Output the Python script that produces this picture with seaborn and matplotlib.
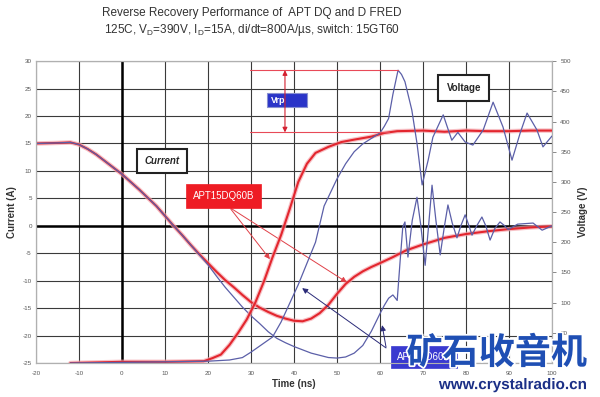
import numpy as np
import pandas as pd
import seaborn as sns
import matplotlib.pyplot as plt
import matplotlib.patheffects as pe
from matplotlib.patches import Rectangle

# --- dados ---
# corrente APT15DQ60B (vermelho)
t_i_dq = [-20, -15, -12, -10, -8, -6, -4, -2, 0, 2, 4, 6, 8, 10, 12, 14, 16, 18, 20, 22, 24,
          26, 28, 30, 32, 34, 36, 38, 40, 42, 44, 46, 48, 50, 52, 54, 56, 58, 60, 63, 66,
          70, 75, 80, 85, 90, 95, 100]
i_dq = [15.0, 15.1, 15.2, 14.8, 14.0, 13.0, 11.8, 10.6, 9.4, 8.0, 6.6, 5.1, 3.6, 1.8, 0.0, -1.7,
        -3.5, -5.2, -6.8, -8.4, -9.9, -11.2, -12.6, -13.9, -14.9, -15.7, -16.4, -16.9, -17.3,
        -17.4, -16.9, -15.9, -14.4, -12.4, -10.6, -9.3, -8.3, -7.5, -6.8, -5.7, -4.5, -3.4,
        -2.2, -1.5, -1.0, -0.6, -0.3, -0.1]

# corrente APT15D60B (azul)
t_i_d = [-20, -15, -12, -10, -8, -6, -4, -2, 0, 2, 4, 6, 8, 10, 12, 14, 16, 18, 20, 22, 24,
         26, 28, 30, 32, 34, 36, 38, 40, 42, 44, 46, 48, 50, 52, 54, 56, 58, 60, 61, 62, 63,
         64, 64.7, 65.3, 65.8, 66.5, 67.5, 68.6, 69.5, 70.5, 71.3, 72.1, 73, 74, 75, 75.8,
         76.8, 77.9, 78.8, 79.8, 80.6, 81.4, 82.5, 83.7, 84.6, 85.6, 86.7, 87.9, 89, 89.8,
         92, 95.6, 97.7, 100]
i_d = [15.0, 15.1, 15.2, 14.8, 14.0, 13.0, 11.8, 10.6, 9.4, 8.0, 6.6, 5.1, 3.6, 1.8, 0.0, -1.7,
       -3.5, -5.3, -7.1, -9.2, -11.2, -13.0, -14.8, -16.4, -17.8, -19.3, -20.5, -21.3, -22.0,
       -22.6, -23.2, -23.6, -24.0, -24.1, -23.9, -23.2, -21.8, -19.2, -16.0, -14.5, -13.2,
       -12.6, -13.6, -6.2, -0.2, 0.7, -5.7, 1.0, 5.2, 0.0, -7.2, 0.0, 7.4, 1.0, -5.3, 0.0,
       3.8, 0.5, -2.2, 0.0, 2.0, 0.2, -1.7, 0.0, 1.6, 0.0, -2.6, -0.5, 0.7, 0.0, -0.7, 0.3,
       0.5, -0.8, 0.0]

# tensão APT15DQ60B (vermelho)
t_v_dq = [-12, 0, 10, 19, 21, 23, 25, 27, 29, 31, 33, 35, 37, 39, 41, 43, 45, 48, 51, 54, 58,
          61, 64, 70, 75, 80, 85, 90, 95, 100]
v_dq = [0, 2, 2, 3, 8, 14, 30, 50, 72, 100, 135, 175, 212, 255, 300, 330, 348, 358, 366, 370,
        375, 381, 384, 385, 383, 385, 384, 384, 385, 385]

# tensão APT15D60B (azul)
t_v_d = [-12, 0, 10, 20, 25, 28, 30, 32, 34, 35, 37, 39, 41, 43, 45, 47, 49, 50, 52, 54, 56,
         58, 60, 61, 62, 63, 64.2, 65, 65.8, 67.4, 68.6, 69.8, 71.2, 72.3, 74.7, 76.7, 78.1,
         79.8, 81.6, 84, 86.3, 88.6, 90.7, 92.6, 94.2, 96.5, 97.9, 100]
v_d = [0, 1, 2, 3, 5, 9, 18, 28, 38, 43, 68, 99, 130, 165, 200, 260, 290, 305, 330, 350, 363,
       372, 381, 392, 405, 445, 485, 478, 466, 419, 364, 295, 336, 374, 411, 369, 382, 366,
       361, 386, 432, 391, 336, 381, 414, 386, 358, 376]

x_ticks = list(range(-20, 101, 10))
i_ticks = list(range(-25, 31, 5))
v_ticks = list(range(50, 501, 50))

RED = '#e3262e'
BLUE = '#5b5fa8'

sns.set_theme(style='white')
plt.rcParams['font.family'] = ['Liberation Sans', 'DejaVu Sans']
plt.rcParams['mathtext.fontset'] = 'custom'
plt.rcParams['mathtext.rm'] = 'Liberation Sans'
plt.rcParams['axes.unicode_minus'] = False

fig = plt.figure(figsize=(6, 3.97), dpi=100)
ax = fig.add_axes([0.06, 0.0856, 0.86, 0.7604])
ax2 = ax.twinx()

halo = [pe.Stroke(linewidth=3.2, foreground='#f4a6ad', alpha=0.7), pe.Normal()]

df_i_dq = pd.DataFrame({'t': t_i_dq, 'i': i_dq})
df_i_d = pd.DataFrame({'t': t_i_d, 'i': i_d})
df_v_dq = pd.DataFrame({'t': t_v_dq, 'v': v_dq})
df_v_d = pd.DataFrame({'t': t_v_d, 'v': v_d})

sns.lineplot(data=df_i_dq, x='t', y='i', ax=ax, color=RED, lw=1.5, path_effects=halo, zorder=3)
sns.lineplot(data=df_i_d, x='t', y='i', ax=ax, color=BLUE, lw=0.9, zorder=4)
sns.lineplot(data=df_v_dq, x='t', y='v', ax=ax2, color=RED, lw=1.5, path_effects=halo, zorder=3)
sns.lineplot(data=df_v_d, x='t', y='v', ax=ax2, color=BLUE, lw=0.9, zorder=4)

ax.set_xlim(-20, 100)
ax.set_ylim(-25, 30)
ax2.set_ylim(0, 500)
ax.set_xticks(x_ticks)
ax.set_yticks(i_ticks)
ax2.set_yticks(v_ticks)
ax.grid(True, color='#3a3a3a', lw=0.8)
ax.axvline(0, color='black', lw=1.8, zorder=2)
ax.axhline(0, color='black', lw=1.8, zorder=2)

for a in (ax, ax2):
    for s in a.spines.values():
        s.set_color('#b0b0b0')
        s.set_linewidth(0.8)
ax.tick_params(axis='x', labelsize=4.5, labelcolor='#555555', length=0, pad=6)
ax.tick_params(axis='y', labelsize=4.5, labelcolor='#555555', length=0, pad=3)
ax2.tick_params(axis='y', labelsize=4.5, labelcolor='#555555', length=3, width=0.6,
                color='#777777', pad=3, direction='out')

ax.set_xlabel('Time (ns)', fontsize=7, fontweight='bold', color='#333333', labelpad=2)
ax.set_ylabel('Current (A)', fontsize=7, fontweight='bold', color='#333333', labelpad=4)
ax2.set_ylabel('Voltage (V)', fontsize=7, fontweight='bold', color='#333333', labelpad=5)

fig.text(0.42, 0.967, 'Reverse Recovery Performance of  APT DQ and D FRED', ha='center',
         va='center', fontsize=8.5, color='#333333')
fig.text(0.42, 0.925, r'125C, V$_\mathrm{D}$=390V, I$_\mathrm{D}$=15A, di/dt=800A/µs, switch: 15GT60',
         ha='center', va='center', fontsize=8.5, color='#333333')

# caixas de texto
ax.text(9.3, 11.8, 'Current', fontsize=7, fontweight='bold', style='italic', ha='center',
        va='center', zorder=6,
        bbox=dict(boxstyle='square,pad=0.75', fc='white', ec='#222222', lw=1.5))
ax.text(79.5, 25.1, 'Voltage', fontsize=7, fontweight='bold', ha='center', va='center', zorder=6,
        bbox=dict(boxstyle='square,pad=0.85', fc='white', ec='#222222', lw=1.5))

# Vrp
ax2.plot([29.8, 64.2], [485, 485], color='#e84a58', lw=0.8, zorder=5)
ax2.plot([29.8, 62], [382, 382], color='#e84a58', lw=0.8, zorder=5)
ax2.annotate('', xy=(37.9, 485), xytext=(37.9, 382), zorder=5,
             arrowprops=dict(arrowstyle='<|-|>', color='#d42030', lw=0.8, mutation_scale=7,
                             shrinkA=0, shrinkB=0))
ax.add_patch(Rectangle((33.7, 21.6), 9.3, 2.6, fc='#2a34c8', ec='#8890d0', lw=0.8, zorder=6))
ax.text(34.6, 22.9, 'Vrp', fontsize=6.5, fontweight='bold', color='white', ha='left',
        va='center', zorder=7)

# seta do rótulo vermelho
ax2.annotate('', xy=(34.4, 172), xytext=(25.3, 255), zorder=5,
             arrowprops=dict(arrowstyle='-|>', color='#e04048', lw=0.7, mutation_scale=8,
                             shrinkA=0, shrinkB=0))
ax.annotate('', xy=(52.3, -10.3), xytext=(25.3, 3.2), zorder=5,
            arrowprops=dict(arrowstyle='-|>', color='#e04048', lw=0.7, mutation_scale=8,
                            shrinkA=0, shrinkB=0))
ax.text(23.7, 5.4, 'APT15DQ60B', fontsize=7, color='white', ha='center', va='center', zorder=7,
        bbox=dict(boxstyle='square,pad=0.7', fc='#ee1c24', ec='#ee1c24', lw=0.5))

# seta do rótulo azul
ax2.annotate('', xy=(41.9, 124), xytext=(61.4, 25), zorder=5,
             arrowprops=dict(arrowstyle='-|>', color='#2a2a78', lw=0.7, mutation_scale=8,
                             shrinkA=0, shrinkB=0))
ax.annotate('', xy=(60.5, -18.1), xytext=(61.4, -22.1), zorder=5,
            arrowprops=dict(arrowstyle='-|>', color='#2a2a78', lw=0.7, mutation_scale=8,
                            shrinkA=0, shrinkB=0))
ax.text(70.2, -23.9, 'APT15D60B', fontsize=7, color='white', ha='center', va='center', zorder=7,
        clip_on=False,
        bbox=dict(boxstyle='square,pad=0.6', fc='#3a3ad0', ec='#3a3ad0', lw=0.5))

# marca d'água
wm = [pe.withStroke(linewidth=2.5, foreground='white')]
fig.text(0.828, 0.11, '矿石收音机', fontsize=26, fontweight='bold', color='#1f4fb4',
         family=['Noto Sans CJK SC', 'DejaVu Sans'], ha='center', va='center',
         path_effects=wm, zorder=10)
fig.text(0.855, 0.03, 'www.crystalradio.cn', fontsize=11, fontweight='bold', color='#1b2f86',
         ha='center', va='center', path_effects=wm, zorder=10)

fig.savefig('out.png', dpi=100)
